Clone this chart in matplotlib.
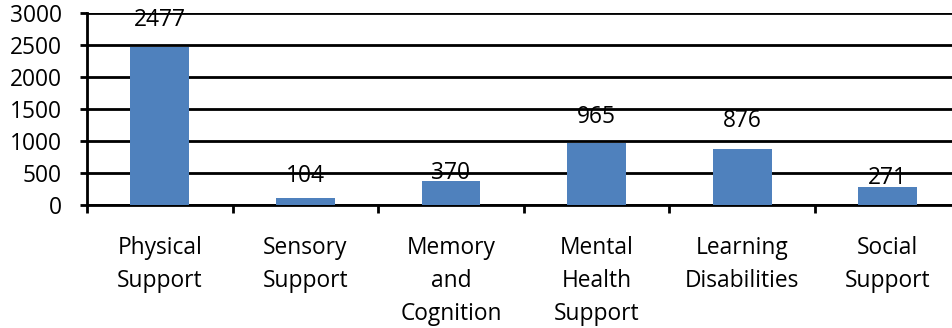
import matplotlib
matplotlib.use("Agg")
import matplotlib.pyplot as plt
from matplotlib.ticker import FixedLocator, NullFormatter

categories = ["Physical\nSupport", "Sensory\nSupport", "Memory\nand\nCognition",
              "Mental\nHealth\nSupport", "Learning\nDisabilities", "Social\nSupport"]
counts = [2477, 104, 370, 965, 876, 271]
y_ticks = [0, 500, 1000, 1500, 2000, 2500, 3000]

# vertical offset (pixels) of each value label above its bar
label_offsets = [27, 22, 8, 26, 28, 9]

plt.rcParams["font.family"] = ["Open Sans", "DejaVu Sans"]
px = 72 / 100  # points per pixel at dpi 100

fig = plt.figure(figsize=(9.52, 3.28), dpi=100)
ax = fig.add_axes([87 / 952, 123.3 / 328, 873.6 / 952, 191.4 / 328])

x = list(range(len(categories)))
ax.bar(x, counts, width=0.405, color="#4F81BD", zorder=3)

ax.set_xlim(-0.5, len(categories) - 0.5)
ax.set_ylim(0, 3000)
ax.set_yticks(y_ticks)
ax.yaxis.grid(True, color="black", linewidth=2 * px * 1.4, zorder=0)
ax.set_axisbelow(True)

for s in ["top", "right"]:
    ax.spines[s].set_visible(False)
ax.spines["left"].set_linewidth(2 * px * 1.4)
ax.spines["bottom"].set_linewidth(2 * px * 1.4)

fs = 16.4
ax.tick_params(axis="y", direction="out", length=7 * px, width=2 * px * 1.4,
               pad=18 * px, labelsize=fs)
# category boundaries carry the tick marks, centers carry the labels
ax.xaxis.set_major_locator(FixedLocator([i - 0.5 for i in range(len(categories) + 1)]))
ax.xaxis.set_major_formatter(NullFormatter())
ax.xaxis.set_minor_locator(FixedLocator(x))
ax.set_xticklabels(categories, minor=True, linespacing=1.52)
ax.tick_params(axis="x", which="major", direction="out", length=8 * px,
               width=2 * px * 1.4)
ax.tick_params(axis="x", which="minor", length=0, pad=31 * px, labelsize=fs)

for xi, v, off in zip(x, counts, label_offsets):
    ax.annotate(str(v), (xi, v), xytext=(0, off * px), textcoords="offset points",
                ha="center", va="center", fontsize=fs)

fig.savefig("out.png", dpi=100)
